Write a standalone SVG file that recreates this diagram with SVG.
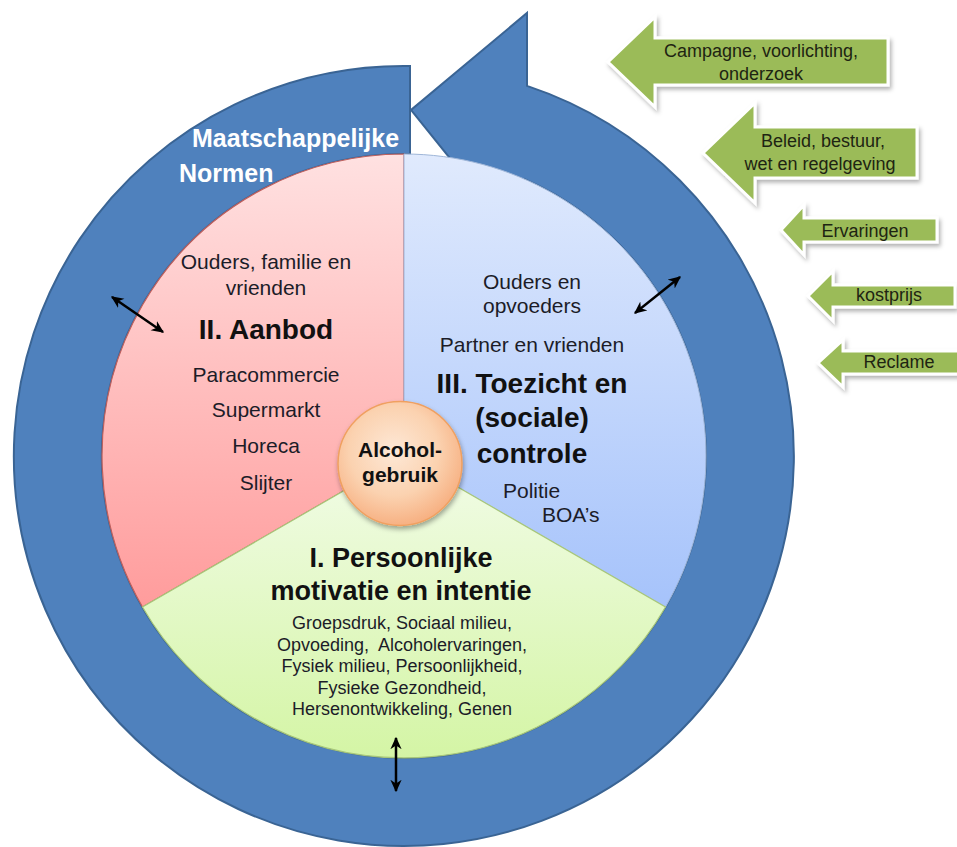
<svg xmlns="http://www.w3.org/2000/svg" width="957" height="847" viewBox="0 0 957 847">
<defs>
<style>
text{font-family:"Liberation Sans",Arial,sans-serif;fill:#1c1c28}
.t{font-size:21px;text-anchor:middle}
.b{font-size:28px;font-weight:bold;text-anchor:middle;fill:#111}
.s{font-size:18px;text-anchor:middle;white-space:pre}
.g{font-size:18px;text-anchor:middle;fill:#1e2412}
.w{font-size:25px;font-weight:bold;fill:#fff}
.ga{fill:#9BBB59;stroke:#fff;stroke-width:3;stroke-linejoin:miter;filter:url(#sh)}
.dbl{stroke:#000;stroke-width:2.5;fill:none;marker-start:url(#ah);marker-end:url(#ah)}
</style>
<linearGradient id="gr" gradientUnits="userSpaceOnUse" x1="0" y1="154" x2="0" y2="607"><stop offset="0" stop-color="#FFE1E1"/><stop offset="1" stop-color="#FF9C9C"/></linearGradient>
<linearGradient id="gb" gradientUnits="userSpaceOnUse" x1="0" y1="154" x2="0" y2="607"><stop offset="0" stop-color="#E0EAFD"/><stop offset="1" stop-color="#A6C3FB"/></linearGradient>
<linearGradient id="gg" gradientUnits="userSpaceOnUse" x1="0" y1="456" x2="0" y2="758"><stop offset="0" stop-color="#F2FCE8"/><stop offset="1" stop-color="#D4F5A5"/></linearGradient>
<radialGradient id="go" cx="0.45" cy="0.4" r="0.6"><stop offset="0" stop-color="#FDE8D6"/><stop offset="0.6" stop-color="#FBD2B0"/><stop offset="1" stop-color="#F7B183"/></radialGradient>
<filter id="sh" x="-20%" y="-20%" width="140%" height="150%"><feDropShadow dx="2" dy="3" stdDeviation="2" flood-color="#000" flood-opacity="0.3"/></filter>
<filter id="sh2" x="-20%" y="-20%" width="140%" height="140%"><feDropShadow dx="1" dy="3" stdDeviation="2.5" flood-color="#000" flood-opacity="0.35"/></filter>
<marker id="ah" viewBox="0 0 10 10" refX="9" refY="5" markerWidth="5" markerHeight="5" orient="auto-start-reverse"><path d="M0,0.5 L10,5 L0,9.5 L3,5 Z" fill="#000"/></marker>
</defs>

<g id="ring">
<path d="M410,66 A390,390 0 1 0 527,85.9 L527,13 L411,110 L523,249 L525,179.3 A302,302 0 1 1 410,154 Z" fill="#4F81BD" stroke="#3A6494" stroke-width="2"/>
<text class="w" x="192" y="147">Maatschappelijke</text>
<text class="w" x="179" y="182">Normen</text>
</g>

<g id="sector-aanbod">
<path d="M404,456 L404,154 A302,302 0 0 0 142.5,607 Z" fill="url(#gr)" stroke="#C0605D" stroke-width="1.2"/>
<text class="t" x="266" y="269">Ouders, familie en</text>
<text class="t" x="266" y="295">vrienden</text>
<text class="b" x="266" y="339">II. Aanbod</text>
<text class="t" x="266" y="382">Paracommercie</text>
<text class="t" x="266" y="417">Supermarkt</text>
<text class="t" x="266" y="453">Horeca</text>
<text class="t" x="266" y="490">Slijter</text>
</g>

<g id="sector-toezicht">
<path d="M404,456 L404,154 A302,302 0 0 1 665.5,607 Z" fill="url(#gb)" stroke="#9FB6D8" stroke-width="1"/>
<text class="t" x="532" y="289">Ouders en</text>
<text class="t" x="532" y="313">opvoeders</text>
<text class="t" x="532" y="352">Partner en vrienden</text>
<text class="b" x="532" y="393">III. Toezicht en</text>
<text class="b" x="532" y="427">(sociale)</text>
<text class="b" x="532" y="463">controle</text>
<text class="t" x="503" y="498" style="text-anchor:start">Politie</text>
<text class="t" x="542" y="522" style="text-anchor:start">BOA’s</text>
</g>

<g id="sector-persoonlijk">
<path d="M404,456 L142.5,607 A302,302 0 0 0 665.5,607 Z" fill="url(#gg)" stroke="#A8C77A" stroke-width="1.2"/>
<text class="b" x="401" y="567" style="font-size:27px">I. Persoonlijke</text>
<text class="b" x="401" y="600" style="font-size:27px">motivatie en intentie</text>
<text class="s" x="402" y="629">Groepsdruk, Sociaal milieu,</text>
<text class="s" x="402" y="651">Opvoeding,  Alcoholervaringen,</text>
<text class="s" x="402" y="672">Fysiek milieu, Persoonlijkheid,</text>
<text class="s" x="402" y="694">Fysieke Gezondheid,</text>
<text class="s" x="402" y="715">Hersenontwikkeling, Genen</text>
</g>

<g id="center-alcohol">
<circle cx="400" cy="463.5" r="62" fill="url(#go)" stroke="#F0A060" stroke-width="1.5" filter="url(#sh2)"/>
<text x="400" y="457" style="font-size:21px;font-weight:bold;text-anchor:middle;fill:#111">Alcohol-</text>
<text x="400" y="482" style="font-size:21px;font-weight:bold;text-anchor:middle;fill:#111">gebruik</text>
</g>

<g id="arrow-campagne">
<polygon class="ga" points="608,62 655,17 655,38 888,38 888,85 655,85 655,107"/>
<text class="g" x="761" y="57">Campagne, voorlichting,</text>
<text class="g" x="761" y="80">onderzoek</text>
</g>
<g id="arrow-beleid">
<polygon class="ga" points="703,153 755,103 755,127 917,127 917,178 755,178 755,203"/>
<text class="g" x="823" y="147">Beleid, bestuur,</text>
<text class="g" x="820" y="170">wet en regelgeving</text>
</g>
<g id="arrow-ervaringen">
<polygon class="ga" points="781,230 804,205 804,218 937,218 937,242 804,242 804,255"/>
<text class="g" x="865" y="237">Ervaringen</text>
</g>
<g id="arrow-kostprijs">
<polygon class="ga" points="808,296 833,271 833,285 955,285 955,307 833,307 833,321"/>
<text class="g" x="889" y="301">kostprijs</text>
</g>
<g id="arrow-reclame">
<polygon class="ga" points="818,363 843,340 843,351 965,351 965,374 843,374 843,387"/>
<text class="g" x="899" y="368">Reclame</text>
</g>

<g id="connectors">
<line class="dbl" x1="112" y1="297" x2="163" y2="332"/>
<line class="dbl" x1="680" y1="277" x2="635" y2="313"/>
<line class="dbl" x1="396" y1="738" x2="396" y2="791"/>
</g>
</svg>
